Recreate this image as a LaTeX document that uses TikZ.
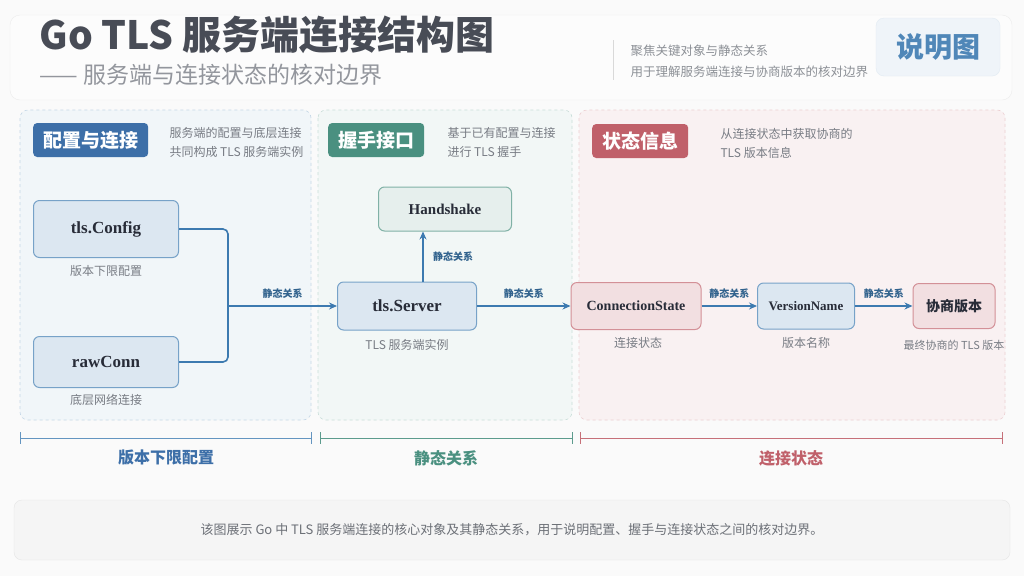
\documentclass[tikz,border=0pt]{standalone}
\usepackage{fontspec}
\setmainfont{Liberation Serif}
\newfontfamily\cjk{Noto Sans CJK SC}
\usetikzlibrary{arrows.meta}
\definecolor{BlueLine}{RGB}{61,122,176}
\definecolor{BlueTag}{RGB}{61,111,168}
\definecolor{GreenTag}{RGB}{74,144,128}
\definecolor{RedTag}{RGB}{192,96,106}
\definecolor{TextGrey}{RGB}{120,124,132}
\definecolor{TextDark}{RGB}{40,44,56}
\tikzset{
  obj/.style={draw, rounded corners=6pt, line width=1pt, align=center,
    font=\fontsize{17}{20}\selectfont\bfseries, text=TextDark},
  blueobj/.style={obj, draw=BlueLine!70, fill=BlueLine!18},
  redobj/.style={obj, draw=RedTag!70, fill=RedTag!20},
  greenobj/.style={obj, draw=GreenTag!70, fill=GreenTag!14},
  tag/.style={rounded corners=4pt, text=white, font=\cjk\fontsize{19}{22}\selectfont\bfseries,
    minimum height=34pt, inner xsep=10pt},
  sub/.style={text=TextGrey, font=\cjk\fontsize{12}{14}\selectfont},
  desc/.style={text=TextGrey, font=\cjk\fontsize{12}{19}\selectfont, align=left, anchor=west},
  rel/.style={text=BlueLine!80!black, font=\cjk\fontsize{10}{12}\selectfont\bfseries},
  link/.style={draw=BlueLine, line width=1.6pt, -{Stealth[length=8pt,width=7pt]}},
  panel/.style={rounded corners=8pt, dashed, line width=0.6pt},
}
\begin{document}
\begin{tikzpicture}[x=1pt,y=-1pt]
  \useasboundingbox[fill=white!96!gray] (0,0) rectangle (1024,576);

  % header
  \draw[rounded corners=10pt, fill=white!98!gray, draw=gray!15] (10,15) rectangle (1012,100);
  \node[anchor=west, text=TextDark!85, font=\cjk\fontsize{39}{42}\selectfont\bfseries] (title) at (36,35) {Go TLS 服务端连接结构图};
  \node[anchor=west, text=TextGrey!80, font=\cjk\fontsize{23}{26}\selectfont] (subtitle) at (36,75) {—— 服务端与连接状态的核对边界};
  \draw[gray!30, line width=0.8pt] (613,40) -- (613,80);
  \node[desc, text=TextGrey!85, font=\cjk\fontsize{12.5}{21}\selectfont] (note) at (627,61) {聚焦关键对象与静态关系\\用于理解服务端连接与协商版本的核对边界};
  \node[rounded corners=8pt, fill=BlueLine!8, draw=BlueLine!15, minimum width=124pt, minimum height=58pt,
    text=BlueLine!90, font=\cjk\fontsize{28}{30}\selectfont\bfseries] (legend) at (938,47) {说明图};

  % panels
  \draw[panel, fill=BlueLine!7, draw=BlueLine!30] (20,110) rectangle (311,420);
  \draw[panel, fill=GreenTag!7, draw=GreenTag!30] (318,110) rectangle (572,420);
  \draw[panel, fill=RedTag!9, draw=RedTag!30] (579,110) rectangle (1005,420);

  \node[tag, fill=BlueTag, anchor=west] (tagcfg) at (33,140) {配置与连接};
  \node[tag, fill=GreenTag, anchor=west] (taghs) at (328,140) {握手接口};
  \node[tag, fill=RedTag, anchor=west] (tagst) at (592,141) {状态信息};
  \node[desc] at (166,142) {服务端的配置与底层连接\\共同构成 TLS 服务端实例};
  \node[desc] at (444,142) {基于已有配置与连接\\进行 TLS 握手};
  \node[desc] at (717,143) {从连接状态中获取协商的\\TLS 版本信息};

  % objects
  \node[blueobj, minimum width=145pt, minimum height=57pt] (config) at (106,229) {tls.Config};
  \node[blueobj, minimum width=145pt, minimum height=51pt] (rawconn) at (106,362) {rawConn};
  \node[blueobj, minimum width=139pt, minimum height=48pt] (server) at (407,306) {tls.Server};
  \node[greenobj, minimum width=133pt, minimum height=44pt, font=\fontsize{15}{18}\selectfont\bfseries] (handshake) at (445,209) {Handshake};
  \node[redobj, minimum width=130pt, minimum height=47pt, inner xsep=3pt, font=\fontsize{14}{17}\selectfont\bfseries] (connstate) at (636,306) {ConnectionState};
  \node[blueobj, minimum width=97pt, minimum height=46pt, font=\fontsize{13}{16}\selectfont\bfseries] (vername) at (806,306) {VersionName};
  \node[redobj, minimum width=82pt, minimum height=45pt, font=\cjk\fontsize{14}{16}\selectfont\bfseries] (negver) at (954,306) {协商版本};

  \node[sub] at (106,271) {版本下限配置};
  \node[sub] at (106,400) {底层网络连接};
  \node[sub] at (407,345) {TLS 服务端实例};
  \node[sub] at (638,343) {连接状态};
  \node[sub] at (806,343) {版本名称};
  \node[sub, font=\cjk\fontsize{11}{13}\selectfont] at (954,345) {最终协商的 TLS 版本};

  % connectors
  \coordinate (join) at (228,306);
  \coordinate (hsfoot) at (423,282);
  \draw[draw=BlueLine, line width=1.6pt, rounded corners=5pt] (config.east) -| (join);
  \draw[draw=BlueLine, line width=1.6pt, rounded corners=5pt] (rawconn.east) -| (join);
  \draw[link] (join) -- (server.west) node[rel, midway, above=3pt] {静态关系};
  \draw[link] (hsfoot) -- (hsfoot |- handshake.south) node[rel, midway, right=6pt] {静态关系};
  \draw[link] (server.east) -- (connstate.west) node[rel, midway, above=3pt] {静态关系};
  \draw[link] (connstate.east) -- (vername.west) node[rel, midway, above=3pt] {静态关系};
  \draw[link] (vername.east) -- (negver.west) node[rel, midway, above=3pt] {静态关系};

  % brackets
  \draw[BlueLine!80, line width=1pt] (20,432) -- (20,444) (20,438) -- (311,438) (311,432) -- (311,444);
  \draw[GreenTag!90, line width=1pt] (320,432) -- (320,444) (320,438) -- (572,438) (572,432) -- (572,444);
  \draw[RedTag!90, line width=1pt] (580,432) -- (580,444) (580,438) -- (1002,438) (1002,432) -- (1002,444);
  \node[text=BlueTag, font=\cjk\fontsize{16}{18}\selectfont\bfseries] at (166,458) {版本下限配置};
  \node[text=GreenTag, font=\cjk\fontsize{16}{18}\selectfont\bfseries] at (446,458) {静态关系};
  \node[text=RedTag, font=\cjk\fontsize{16}{18}\selectfont\bfseries] at (791,458) {连接状态};

  % footer
  \draw[rounded corners=8pt, fill=gray!8, draw=gray!20] (14,500) rectangle (1010,560);
  \node[text=TextGrey!90!black, font=\cjk\fontsize{13}{15}\selectfont] (footer) at (512,530)
    {该图展示 Go 中 TLS 服务端连接的核心对象及其静态关系，用于说明配置、握手与连接状态之间的核对边界。};
\end{tikzpicture}
\end{document}
